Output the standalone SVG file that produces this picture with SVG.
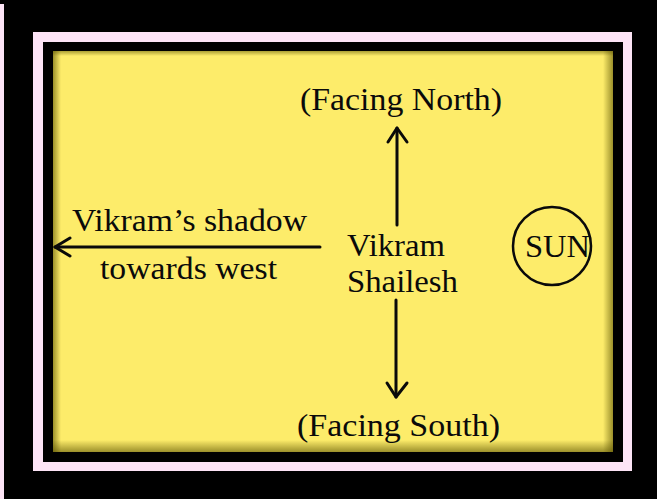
<svg xmlns="http://www.w3.org/2000/svg" width="657" height="499" viewBox="0 0 657 499">
  <defs>
    <style>
      .t { font-family: "Liberation Serif", "Times New Roman", serif; font-size: 32px; fill: #0a0a0a; }
      .ln { stroke: #0a0a0a; stroke-width: 3; fill: none; stroke-linecap: round; stroke-linejoin: round; }
    </style>
    <linearGradient id="shL" x1="0" y1="0" x2="1" y2="0">
      <stop offset="0" stop-color="#5a5200" stop-opacity="0.6"/>
      <stop offset="1" stop-color="#5a5200" stop-opacity="0"/>
    </linearGradient>
    <linearGradient id="shR" x1="1" y1="0" x2="0" y2="0">
      <stop offset="0" stop-color="#5a5200" stop-opacity="0.6"/>
      <stop offset="1" stop-color="#5a5200" stop-opacity="0"/>
    </linearGradient>
    <linearGradient id="shT" x1="0" y1="0" x2="0" y2="1">
      <stop offset="0" stop-color="#5a5200" stop-opacity="0.5"/>
      <stop offset="1" stop-color="#5a5200" stop-opacity="0"/>
    </linearGradient>
    <linearGradient id="shB" x1="0" y1="1" x2="0" y2="0">
      <stop offset="0" stop-color="#5a5200" stop-opacity="0.6"/>
      <stop offset="1" stop-color="#5a5200" stop-opacity="0"/>
    </linearGradient>
  </defs>

  <!-- background and frame -->
  <rect x="0" y="0" width="657" height="499" fill="#000"/>
  <rect x="0" y="4" width="4" height="495" fill="#fde4f6"/>
  <rect x="33" y="32" width="599" height="439" fill="#fde4f6"/>
  <rect x="43" y="42" width="580" height="420" fill="#000"/>
  <rect x="53" y="51" width="560" height="401" fill="#fdec6a"/>
  <rect x="53" y="51" width="8" height="401" fill="url(#shL)"/>
  <rect x="603" y="51" width="10" height="401" fill="url(#shR)"/>
  <rect x="53" y="51" width="560" height="5" fill="url(#shT)"/>
  <rect x="53" y="440" width="560" height="12" fill="url(#shB)"/>

  <g id="connectors">
    <path class="ln" d="M397 225 V128"/>
    <path class="ln" d="M388 142 L397 128 L407 142"/>
    <path class="ln" d="M396 300 V397"/>
    <path class="ln" d="M387 383 L396 397 L407 383"/>
    <path class="ln" d="M320 247 H55"/>
    <path class="ln" d="M70 238 L55 247 L70 256"/>
  </g>

  <g id="north">
    <text class="t" x="300" y="110" textLength="202" lengthAdjust="spacingAndGlyphs">(Facing North)</text>
  </g>
  <g id="south">
    <text class="t" x="297" y="436" textLength="203" lengthAdjust="spacingAndGlyphs">(Facing South)</text>
  </g>
  <g id="shadow">
    <text class="t" x="72" y="231" textLength="235" lengthAdjust="spacingAndGlyphs">Vikram’s shadow</text>
    <text class="t" x="100" y="279" textLength="177" lengthAdjust="spacingAndGlyphs">towards west</text>
  </g>
  <g id="vikram">
    <text class="t" x="347" y="256" textLength="98" lengthAdjust="spacingAndGlyphs">Vikram</text>
    <text class="t" x="347" y="292" textLength="111" lengthAdjust="spacingAndGlyphs">Shailesh</text>
  </g>
  <g id="sun">
    <circle cx="552" cy="246" r="39" fill="none" stroke="#0a0a0a" stroke-width="2.5"/>
    <text class="t" x="525" y="257" textLength="65" lengthAdjust="spacingAndGlyphs">SUN</text>
  </g>
</svg>
